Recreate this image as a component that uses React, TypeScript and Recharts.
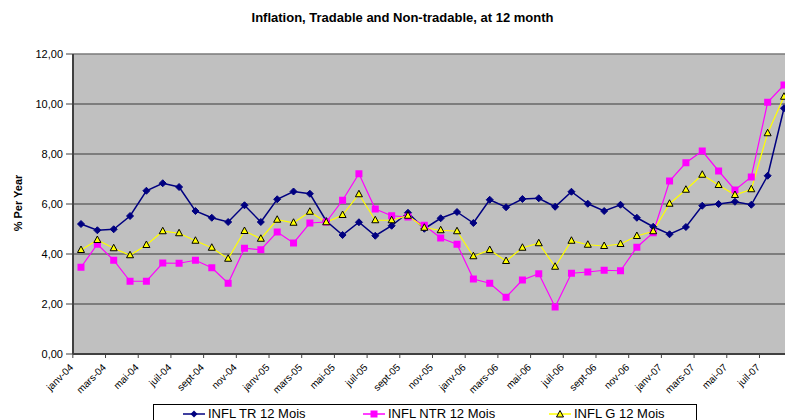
import { LineChart, Line, XAxis, YAxis, CartesianGrid, ReferenceLine } from "recharts";

// months from janv-04 to août-07
const months = [
  "janv-04", "févr-04", "mars-04", "avr-04", "mai-04", "juin-04", "juil-04", "août-04", "sept-04", "oct-04", "nov-04", "déc-04",
  "janv-05", "févr-05", "mars-05", "avr-05", "mai-05", "juin-05", "juil-05", "août-05", "sept-05", "oct-05", "nov-05", "déc-05",
  "janv-06", "févr-06", "mars-06", "avr-06", "mai-06", "juin-06", "juil-06", "août-06", "sept-06", "oct-06", "nov-06", "déc-06",
  "janv-07", "févr-07", "mars-07", "avr-07", "mai-07", "juin-07", "juil-07", "août-07",
];

const inflTR = [
  5.2, 4.95, 4.99, 5.52, 6.53, 6.83, 6.68, 5.72, 5.45, 5.28, 5.95, 5.28,
  6.19, 6.5, 6.41, 5.32, 4.76, 5.27, 4.73, 5.13, 5.65, 5.01, 5.43, 5.68,
  5.24, 6.17, 5.87, 6.2, 6.23, 5.89, 6.49, 6.01, 5.72, 5.97, 5.45, 5.09,
  4.79, 5.08, 5.93, 6.0, 6.09, 5.97, 7.13, 9.83,
];

const inflNTR = [
  3.47, 4.39, 3.75, 2.91, 2.91, 3.64, 3.63, 3.75, 3.45, 2.83, 4.23, 4.17,
  4.88, 4.44, 5.24, 5.28, 6.15, 7.21, 5.8, 5.53, 5.48, 5.15, 4.64, 4.39,
  3.0, 2.83, 2.27, 2.96, 3.21, 1.88, 3.23, 3.28, 3.35, 3.33, 4.27, 4.85,
  6.92, 7.65, 8.12, 7.32, 6.56, 7.08, 10.07, 10.76,
];

const inflG = [
  4.16, 4.56, 4.23, 3.95, 4.36, 4.91, 4.83, 4.53, 4.25, 3.81, 4.92, 4.61,
  5.37, 5.25, 5.69, 5.27, 5.56, 6.39, 5.35, 5.35, 5.53, 5.05, 4.95, 4.91,
  3.91, 4.16, 3.72, 4.25, 4.43, 3.49, 4.53, 4.37, 4.32, 4.4, 4.72, 4.91,
  6.01, 6.57, 7.17, 6.76, 6.36, 6.59, 8.83, 10.29,
];

const yTicks = [0, 2, 4, 6, 8, 10, 12];

const data = months.map((m, i) => ({ month: m, tr: inflTR[i], ntr: inflNTR[i], g: inflG[i] }));

const FONT = '"Liberation Sans", Arial, sans-serif';
const HALF_STEP = 8.17; // half a category, ticks sit between months

function MonthTick(props: any) {
  const { x, y, payload } = props;
  return (
    <g>
      <line x1={x - HALF_STEP} y1={y} x2={x - HALF_STEP} y2={y + 4} stroke="#404040" />
      <text
        x={x - 7}
        y={y + 14}
        textAnchor="end"
        fontSize={10}
        fontFamily={FONT}
        fill="#000"
        transform={`rotate(-45, ${x - 7}, ${y + 14})`}
      >
        {payload.value}
      </text>
    </g>
  );
}

const Diamond = (p: any) => {
  const { cx, cy, index } = p;
  if (cx == null || cy == null) return <g key={index} />;
  return (
    <polygon key={index} points={`${cx},${cy - 3.5} ${cx + 3.5},${cy} ${cx},${cy + 3.5} ${cx - 3.5},${cy}`} fill="#000080" stroke="#000080" />
  );
};

const Square = (p: any) => {
  const { cx, cy, index } = p;
  if (cx == null || cy == null) return <g key={index} />;
  return <rect key={index} x={cx - 3.5} y={cy - 3.5} width={7} height={7} fill="#FF00FF" />;
};

const Triangle = (p: any) => {
  const { cx, cy, index } = p;
  if (cx == null || cy == null) return <g key={index} />;
  return (
    <polygon key={index} points={`${cx},${cy - 4} ${cx + 3.5},${cy + 2.5} ${cx - 3.5},${cy + 2.5}`} fill="#FFFF00" stroke="#000" strokeWidth={1} />
  );
};

function LegendKey({ color, marker }: { color: string; marker: string }) {
  return (
    <svg width={22} height={10} style={{ display: "block" }}>
      <line x1={0} y1={5} x2={22} y2={5} stroke={color} strokeWidth={1.5} />
      {marker === "diamond" && <polygon points="11,1.5 14.5,5 11,8.5 7.5,5" fill="#000080" />}
      {marker === "square" && <rect x={7.5} y={1.5} width={7} height={7} fill="#FF00FF" />}
      {marker === "triangle" && <polygon points="11,1.5 14.5,8 7.5,8" fill="#FFFF00" stroke="#000" />}
    </svg>
  );
}

export default function App() {
  const legendItems = [
    { label: "INFL TR 12 Mois", color: "#000080", marker: "diamond", left: 29 },
    { label: "INFL NTR 12 Mois", color: "#FF00FF", marker: "square", left: 209 },
    { label: "INFL G 12 Mois", color: "#FFFF00", marker: "triangle", left: 395 },
  ];

  return (
    <div style={{ position: "fixed", left: 0, top: 0, width: 785, height: 420, overflow: "hidden", background: "#fff", fontFamily: FONT }}>
      <div style={{ position: "absolute", left: 0, top: 10, width: 805, textAlign: "center", fontSize: 13, fontWeight: "bold" }}>
        Inflation, Tradable and Non-tradable, at 12 month
      </div>
      <div
        style={{
          position: "absolute",
          left: 18,
          top: 203,
          transform: "translate(-50%, -50%) rotate(-90deg)",
          whiteSpace: "nowrap",
          fontSize: 11,
          fontWeight: "bold",
        }}
      >
        % Per Year
      </div>

      <div style={{ position: "absolute", left: 0, top: 0 }}>
        <LineChart width={800} height={420} data={data} margin={{ top: 54, right: 8, bottom: 0, left: 0 }}>
          <CartesianGrid horizontal vertical={false} fill="#C0C0C0" stroke="#3a3a3a" fillOpacity={1} />
          <ReferenceLine y={12} stroke="#999" />
          <XAxis
            dataKey="month"
            interval={1}
            height={66}
            padding={{ left: 8, right: 8 }}
            tickLine={false}
            tickSize={0}
            tickMargin={0}
            axisLine={{ stroke: "#404040", strokeWidth: 2 }}
            tick={<MonthTick />}
          />
          <YAxis
            domain={[0, 12]}
            ticks={yTicks}
            width={73}
            tickSize={7}
            tickMargin={3}
            tickLine={{ stroke: "#404040" }}
            axisLine={{ stroke: "#404040", strokeWidth: 2 }}
            tick={{ fontSize: 11, fill: "#000", fontFamily: FONT }}
            tickFormatter={(v: number) => v.toFixed(2).replace(".", ",")}
          />
          <Line dataKey="tr" stroke="#000080" strokeWidth={1.5} dot={Diamond} isAnimationActive={false} />
          <Line dataKey="ntr" stroke="#FF00FF" strokeWidth={1.2} dot={Square} isAnimationActive={false} />
          <Line dataKey="g" stroke="#FFFF00" strokeWidth={1.2} dot={Triangle} isAnimationActive={false} />
        </LineChart>
      </div>

      <div
        style={{
          position: "absolute",
          left: 153,
          top: 404,
          width: 542,
          height: 30,
          border: "1px solid #000",
          background: "#fff",
          fontSize: 13,
        }}
      >
        {legendItems.map((it) => (
          <div key={it.label} style={{ position: "absolute", left: it.left, top: 1, display: "flex", alignItems: "center", gap: 3 }}>
            <LegendKey color={it.color} marker={it.marker} />
            <span>{it.label}</span>
          </div>
        ))}
      </div>
    </div>
  );
}
